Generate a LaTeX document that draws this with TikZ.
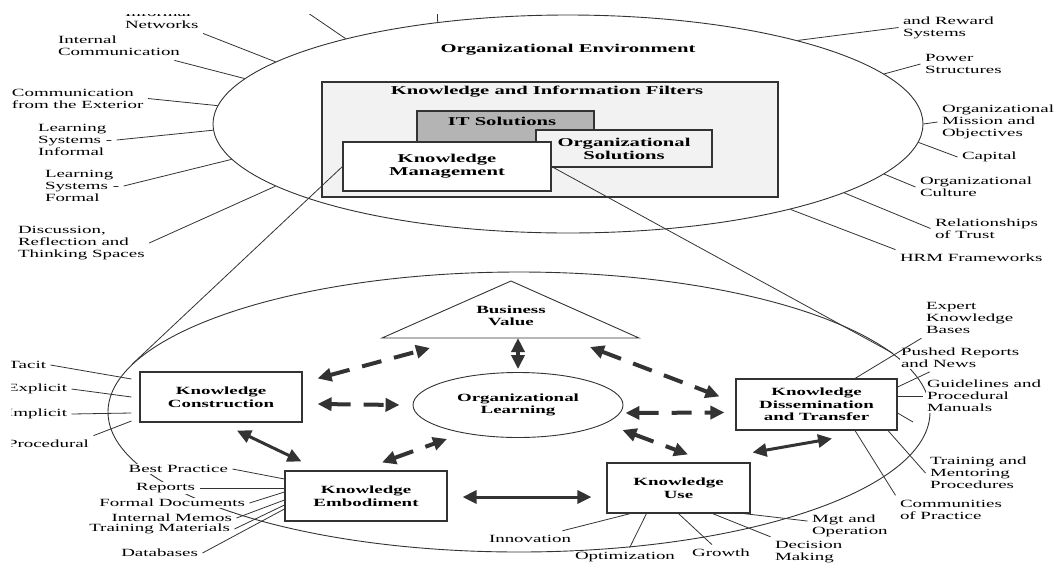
\documentclass[tikz,border=0pt]{standalone}
\usepackage{fontspec}
\setmainfont{Liberation Serif}[FakeStretch=1.72]
\usetikzlibrary{arrows.meta, shapes.geometric}

\definecolor{ink}{HTML}{333333}
\definecolor{filtgray}{HTML}{F2F2F2}
\definecolor{itgray}{HTML}{B4B4B4}

\tikzset{
    big/.tip={Triangle[length=14pt,width=13pt]},
    ring/.style={ellipse, draw=ink, line width=0.9pt, inner sep=0pt},
    box/.style={draw=ink, line width=1.1pt, fill=white, align=center, inner sep=0pt,
        font=\bfseries\fontsize{11}{12.5}\selectfont},
    bigbox/.style={box, font=\bfseries\fontsize{12}{13}\selectfont},
    btitle/.style={inner sep=0pt, align=center, font=\bfseries\fontsize{12}{13}\selectfont},
    btext/.style={inner sep=0pt, align=center, font=\bfseries\fontsize{11}{12}\selectfont},
    lbl/.style={fill=white, inner sep=1.5pt, outer sep=3pt, align=left,
        font=\fontsize{11}{12}\selectfont},
    dasharrow/.style={draw=ink, line width=4pt, dash pattern=on 20pt off 13pt, big-big},
    solidarrow/.style={draw=ink, line width=3pt, big-big}
}

\begin{document}
\begin{tikzpicture}[x=1pt, y=-1pt]
\useasboundingbox (0,0) rectangle (1063,566);
\clip (11,14) rectangle (1063,566);

% the two rings
\node[ring, minimum width=710pt, minimum height=218pt] (env) at (568,124) {};
\node[ring, minimum width=822pt, minimum height=280pt] (kmring) at (519,412) {};

\node[btitle] (envt) at (568,50) {Organizational Environment};

% filters
\node[bigbox, fill=filtgray, minimum width=456pt, minimum height=115pt] (filt) at (550,139.5) {};
\node[btitle] (filtt) at (547,92) {Knowledge and Information Filters};
\node[bigbox, fill=itgray, minimum width=177pt, minimum height=39pt] (it) at (505.5,130.5) {};
\node[btitle] (itt) at (502,121) {IT Solutions};
\node[bigbox, fill=filtgray, minimum width=176pt, minimum height=37pt] (orgs) at (624,148.5) {Organizational\\Solutions};
\node[bigbox, minimum width=208pt, minimum height=49pt] (km) at (447,166.5) {Knowledge\\Management};

% knowledge management cycle
\coordinate (bvl) at (382,338);
\coordinate (bvt) at (511,281);
\coordinate (bvr) at (639,338);
\draw[draw=ink, line width=0.9pt] (bvl) -- (bvt) -- (bvr) -- cycle;
\node[btext] (bv) at (511,315.5) {Business\\Value};
\node[box, ellipse, line width=0.9pt, minimum width=210pt, minimum height=65pt] (ol) at (518,405) {Organizational\\Learning};
\node[box, minimum width=162pt, minimum height=50pt] (kc) at (221,397) {Knowledge\\Construction};
\node[box, minimum width=162pt, minimum height=50pt] (ke) at (366,496) {Knowledge\\Embodiment};
\node[box, minimum width=143pt, minimum height=50pt] (ku) at (678.5,488) {Knowledge\\Use};
\node[box, minimum width=161pt, minimum height=51pt] (kdt) at (816.5,404.5) {Knowledge\\Dissemination\\and Transfer};

\begin{scope}[every node/.style={lbl}]
    \node[anchor=west] (netw) at (120.5,19) {Informal\\Networks};
    \node[anchor=west] (intc) at (53.5,46) {Internal\\Communication};
    \node[anchor=west] (extc) at (7.5,98.5) {Communication\\from the Exterior};
    \node[anchor=west] (lsi) at (33.5,140) {Learning\\Systems -\\Informal};
    \node[anchor=west] (lsf) at (40.5,186) {Learning\\Systems -\\Formal};
    \node[anchor=west] (disc) at (13.5,243) {Discussion,\\Reflection and\\Thinking Spaces};
    \node[anchor=west] (reward) at (898.5,27.5) {and Reward\\Systems};
    \node[anchor=west] (power) at (920.5,64) {Power\\Structures};
    \node[anchor=west] (mission) at (937.5,122) {Organizational\\Mission and\\Objectives};
    \node[anchor=west] (capital) at (957.5,157) {Capital};
    \node[anchor=west] (culture) at (915.5,187) {Organizational\\Culture};
    \node[anchor=west] (trust) at (930.5,228.5) {Relationships\\of Trust};
    \node[anchor=west] (hrm) at (895.5,258) {HRM Frameworks};
    \node[anchor=east] (tacit) at (50.5,365) {Tacit};
    \node[anchor=east] (explicit) at (71.5,389) {Explicit};
    \node[anchor=east] (implicit) at (71.5,414) {Implicit};
    \node[anchor=east] (procedural) at (93.5,444) {Procedural};
    \node[anchor=east] (bp) at (232.5,469) {Best Practice};
    \node[anchor=east] (reports) at (199.5,488) {Reports};
    \node[anchor=east] (formal) at (249.5,503) {Formal Documents};
    \node[anchor=east] (memos) at (236.5,518) {Internal Memos};
    \node[anchor=east] (training) at (234.5,529) {Training Materials};
    \node[anchor=east] (databases) at (202.5,553) {Databases};
    \node (innov) at (530,539) {Innovation};
    \node (optim) at (625,557) {Optimization};
    \node (growth) at (721,553) {Growth};
    \node[anchor=west] (decision) at (770.5,552) {Decision\\Making};
    \node[anchor=west] (mgt) at (807.5,526) {Mgt and\\Operation};
    \node[anchor=west] (expert) at (921.5,318) {Expert\\Knowledge\\Bases};
    \node[anchor=west] (pushed) at (896.5,357.5) {Pushed Reports\\and News};
    \node[anchor=west] (guide) at (922.5,396) {Guidelines and\\Procedural\\Manuals};
    \node[anchor=west] (train) at (925.5,473) {Training and\\Mentoring\\Procedures};
    \node[anchor=west] (commun) at (895.5,509.5) {Communities\\of Practice};
\end{scope}

\coordinate (topl) at (289,0);
\coordinate (topm) at (437,0);
\coordinate (gdend) at (913,422);

\begin{scope}[every edge/.style={draw=ink, line width=0.8pt}]
    \path [-] (netw.south east) edge (env.168.2);
    \path [-] (intc) edge (env.172.5);
    \path [-] (extc.east) edge (env.177.2);
    \path [-] (lsi.east) edge (env.181.1);
    \path [-] (lsf.east) edge (env.186.2);
    \path [-] (disc.east) edge (env.192.7);
    \path [-] (topl) edge (env.159.8);
    \path [-] (topm) edge (env.142.1);
    \path [-] (reward.west) edge (env.20.3);
    \path [-] (power.west) edge (env.9);
    \path [-] (mission.west) edge (env.0);
    \path [-] (capital.west) edge (env.-3.9);
    \path [-] (culture.west) edge (env.-9.2);
    \path [-] (trust.west) edge (env.-14.9);
    \path [-] (hrm.north west) edge (env.-21.8);
    \path [-] (km.west) edge (kmring.173.9);
    \path [-] (km.east) edge (kmring.9.6);
    \path [-] (tacit.east) edge ([shift={(-8,-18)}]kc.west);
    \path [-] (explicit.east) edge ([shift={(-8,0)}]kc.west);
    \path [-] (implicit.east) edge ([shift={(-8,16)}]kc.west);
    \path [-] (procedural.north east) edge ([shift={(-8,24)}]kc.west);
    \path [-] (bp.east) edge ([shift={(0,-17)}]ke.west);
    \path [-] (reports.east) edge ([shift={(0,-8)}]ke.west);
    \path [-] (formal.east) edge ([shift={(0,-4)}]ke.west);
    \path [-] (memos.east) edge ([shift={(0,4)}]ke.west);
    \path [-] (training.east) edge ([shift={(0,9)}]ke.west);
    \path [-] (databases.east) edge ([shift={(0,13)}]ke.west);
    \path [-] (innov) edge ([shift={(-48,0)}]ku.south);
    \path [-] (optim) edge ([shift={(-32,0)}]ku.south);
    \path [-] (growth) edge (ku.south);
    \path [-] (decision) edge ([shift={(34,0)}]ku.south);
    \path [-] (mgt) edge ([shift={(65,0)}]ku.south);
    \path [-] (expert.south west) edge ([shift={(38.5,0)}]kdt.north);
    \path [-] (pushed) edge ([shift={(0,-17.5)}]kdt.east);
    \path [-] (guide.west) edge ([shift={(0,-8.5)}]kdt.east);
    \path [-] ([shift={(0,8.5)}]kdt.east) edge (gdend);
    \path [-] (train.west) edge ([shift={(71.5,0)}]kdt.south);
    \path [-] (commun.north west) edge ([shift={(38.5,0)}]kdt.south);
\end{scope}

% flows of the cycle
\path ([shift={(15,7)}]kc.north east) edge[dasharrow] ([shift={(48,10)}]bvl);
\path ([shift={(15,7)}]kc.east) edge[dasharrow] ([shift={(-13,0)}]ol.west);
\path ([shift={(0,-3)}]ol.north) edge[dasharrow] ([shift={(0,-34)}]ol.north);
\path ([shift={(-49,9)}]bvr) edge[dasharrow] ([shift={(-16,18)}]kdt.north west);
\path ([shift={(2,8)}]ol.east) edge[dasharrow] ([shift={(-11,8)}]kdt.west);
\path ([shift={(-1,25)}]ol.east) edge[dasharrow] ([shift={(9.5,-8)}]ku.north);
\path ([shift={(16,-8)}]ke.north) edge[dasharrow] ([shift={(-71,1)}]ol.south);
\path ([shift={(16,8)}]kc.south) edge[solidarrow] ([shift={(17,-9)}]ke.north west);
\path ([shift={(15,1)}]ke.east) edge[solidarrow] ([shift={(-15,9)}]ku.west);
\path ([shift={(2,-10)}]ku.north east) edge[solidarrow] ([shift={(15.5,8)}]kdt.south);
\end{tikzpicture}
\end{document}
